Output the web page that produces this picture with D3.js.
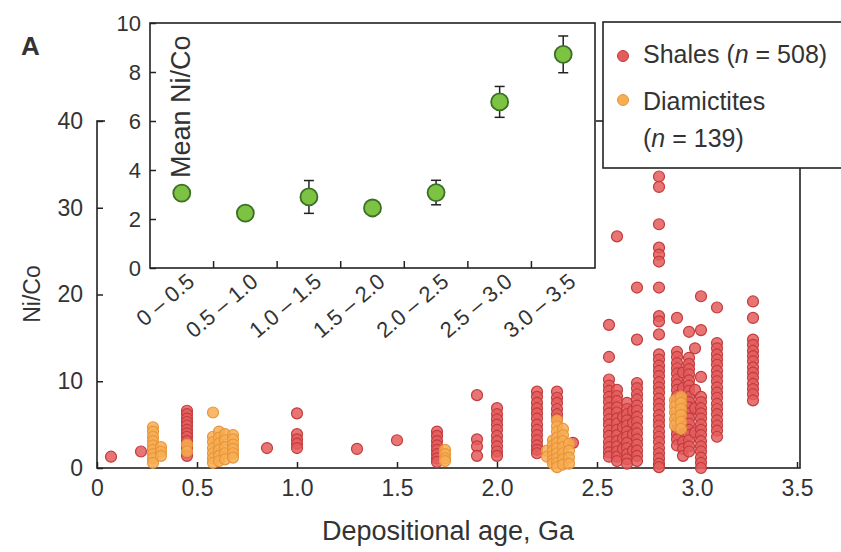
<!DOCTYPE html>
<html>
<head>
<meta charset="utf-8">
<script src="https://cdn.jsdelivr.net/npm/d3@7"></script>
<style>
    body { margin: 0; background: #fff; }
    svg { display: block; font-family: "Liberation Sans", Arial, sans-serif; }
    text { fill: #333; }
</style>
</head>
<body>
<svg width="841" height="552"></svg>
<script>

// ---- data ----
// each column: [depositional age (Ga), [Ni/Co values]]
const shales = [
    [0.07, [1.3]],
    [0.22, [1.9]],
    [0.45, [6.6, 6.2, 5.7, 5.3, 4.9, 4.4, 4.0, 3.6, 3.1, 2.7, 2.3, 1.8, 1.4]],
    [0.85, [2.3]],
    [1.0, [6.3, 3.9, 3.3, 2.8, 2.3]],
    [1.3, [2.2]],
    [1.5, [3.2]],
    [1.7, [4.2, 3.7, 3.1, 2.6, 2.1, 1.6, 1.1, 0.7]],
    [1.9, [8.4, 3.3, 2.5, 1.4]],
    [2.0, [6.9, 6.2, 5.6, 5.0, 4.4, 3.7, 3.1, 2.5, 1.9, 1.4]],
    [2.2, [8.8, 8.2, 7.5, 6.9, 6.3, 5.7, 5.0, 4.4, 3.8, 3.2, 2.6, 2.1, 1.7]],
    [2.3, [8.8, 8.1, 7.5, 6.8, 6.2, 5.6]],
    [2.38, [2.9]],
    [2.56, [16.5, 12.8, 10.2, 9.5, 8.9, 8.2, 7.6, 6.9, 6.3, 5.6, 5.0, 4.3, 3.7, 3.0, 2.4, 1.8, 1.3]],
    [2.6, [26.7, 9.0, 8.3, 7.7, 7.0, 6.4, 5.7, 5.1, 4.4, 3.8, 3.1, 2.5, 1.9, 1.3, 0.8]],
    [2.63, [5.9, 4.7, 3.4, 2.2]],
    [2.65, [7.5, 6.8, 6.2, 5.5, 4.9, 4.2, 3.6, 2.9, 2.3, 1.6, 1.0, 0.5]],
    [2.68, [6.6, 5.2, 3.9, 2.0]],
    [2.7, [20.8, 14.8, 9.8, 9.2, 8.5, 7.9, 7.2, 6.6, 5.9, 5.3, 4.6, 4.0, 3.3, 2.7, 2.0, 1.4, 0.8]],
    [2.81, [33.6, 32.4, 28.1, 25.4, 24.6, 23.8, 20.8, 17.5, 16.9, 15.4, 13.1, 12.5, 11.8, 11.2, 10.6, 9.9,
            9.3, 8.7, 8.0, 7.4, 6.8, 6.1, 5.5, 4.9, 4.2, 3.6, 3.0, 2.3, 1.7, 1.1, 0.5, 0.1]],
    [2.9, [17.3, 13.4, 12.8, 12.1, 11.5, 10.9, 10.2, 9.6, 9.0, 8.3, 7.7, 7.1, 6.4, 5.8, 5.2, 4.5, 3.9, 3.3, 2.6]],
    [2.93, [11.0, 9.2, 6.0, 3.0, 2.2, 1.4]],
    [2.96, [15.7, 12.7, 12.0, 11.4, 10.8, 10.1, 9.5, 8.9, 8.2, 7.6, 7.0, 6.3, 5.7, 5.1, 4.4, 3.8, 3.2, 2.5, 1.9]],
    [2.99, [13.8, 9.0, 6.9, 4.1]],
    [3.02, [19.8, 15.9, 10.5, 8.2, 7.6, 6.9, 6.3, 5.7, 5.0, 4.4, 3.8, 3.1, 2.5, 1.9, 1.2, 0.6, 0.0]],
    [3.1, [18.5, 14.4, 13.8, 13.1, 12.5, 11.9, 11.2, 10.6, 10.0, 9.3, 8.7, 8.1, 7.4, 6.8, 6.2, 5.5, 4.9, 4.3, 3.6]],
    [3.28, [19.2, 17.3, 14.8, 14.2, 13.5, 12.9, 12.3, 11.6, 11.0, 10.4, 9.7, 9.1, 8.5, 7.8]]
];

const diamictites = [
    [0.28, [4.7, 4.2, 3.6, 3.1, 2.6, 2.1, 1.6, 1.1, 0.6]],
    [0.32, [2.4, 1.9, 1.4]],
    [0.45, [2.7, 1.9]],
    [0.58, [6.4, 3.6, 3.0, 2.3, 1.7, 1.1, 0.6]],
    [0.61, [4.2, 3.5, 2.8, 2.1, 1.4, 0.8]],
    [0.64, [3.9, 3.2, 2.4, 1.7, 1.0]],
    [0.68, [3.8, 3.3, 2.7, 2.2, 1.7, 1.2]],
    [1.74, [2.1, 1.6, 1.1, 0.8]],
    [2.25, [2.0, 1.3]],
    [2.28, [3.2, 2.6, 2.0, 1.4, 0.9, 0.5]],
    [2.3, [5.5, 4.8, 4.2, 3.5, 2.9, 2.3, 1.7, 1.1, 0.6, 0.1]],
    [2.33, [4.5, 3.8, 3.1, 2.4, 1.7, 1.0, 0.4]],
    [2.36, [2.8, 2.0, 1.2, 0.5]],
    [2.89, [7.8, 7.1, 6.4, 5.6, 4.9]],
    [2.92, [8.2, 7.5, 6.8, 6.1, 5.3, 4.5]]
];

const ageTicks = [0, 0.5, 1.0, 1.5, 2.0, 2.5, 3.0, 3.5];
const ratioTicks = [0, 10, 20, 30, 40];

// inset: mean Ni/Co per age bin
const binLabels = ['0 \u2013 0.5', '0.5 \u2013 1.0', '1.0 \u2013 1.5', '1.5 \u2013 2.0', '2.0 \u2013 2.5', '2.5 \u2013 3.0', '3.0 \u2013 3.5'];
const binMeans = [3.06, 2.24, 2.9, 2.45, 3.08, 6.78, 8.72];
const binErrors = [0.12, 0.1, 0.67, 0.12, 0.5, 0.63, 0.75];
const meanTicks = [0, 2, 4, 6, 8, 10];

const legendItems = [
    { name: 'Shales', n: 508 },
    { name: 'Diamictites', n: 139 }
];

// ---- setup ----
const svg = d3.select('svg');
const shaleFill = '#e45c5c', shaleStroke = '#c23b3d';
const diaFill = '#f7ad52', diaStroke = '#e8953a';

const x = d3.scaleLinear().domain([0, 3.515]).range([97, 800]);
const y = d3.scaleLinear().domain([0, 40]).range([468, 121]);

// main frame
svg.append('rect')
    .attr('x', x(0)).attr('y', y(40))
    .attr('width', x(3.515) - x(0)).attr('height', y(0) - y(40))
    .attr('fill', 'none').attr('stroke', '#222').attr('stroke-width', 1.6);

const xAxis = svg.append('g')
    .attr('transform', `translate(0, ${y(0)})`)
    .call(d3.axisBottom(x).tickValues(ageTicks).tickSizeInner(-6).tickSizeOuter(0).tickPadding(12)
        .tickFormat(d => d === 0 ? '0' : d3.format('.1f')(d)));
const yAxis = svg.append('g')
    .attr('transform', `translate(${x(0)}, 0)`)
    .call(d3.axisLeft(y).tickValues(ratioTicks).tickSizeInner(-6).tickSizeOuter(0).tickPadding(14));
[xAxis, yAxis].forEach(g => {
    g.select('.domain').remove();
    g.selectAll('line').attr('stroke', '#222').attr('stroke-width', 1.5);
    g.selectAll('text').style('font-size', '23px').style('font-family', '"Liberation Sans", Arial, sans-serif').attr('fill', '#333');
});

svg.append('text')
    .attr('x', 448).attr('y', 540)
    .attr('text-anchor', 'middle')
    .style('font-size', '27px')
    .text('Depositional age, Ga');

svg.append('text')
    .attr('transform', 'translate(40, 294) rotate(-90)')
    .attr('text-anchor', 'middle')
    .style('font-size', '23px')
    .text('Ni/Co');

svg.append('text')
    .attr('x', 21).attr('y', 55)
    .style('font-size', '26px').style('font-weight', 'bold')
    .style('font-family', '"Liberation Sans Narrow", "Liberation Sans", Arial, sans-serif')
    .text('A');

// points
const flat = cols => cols.flatMap(([age, vals]) => vals.map(v => ({ age, v })));

svg.append('g').selectAll('circle')
    .data(flat(shales))
    .enter()
    .append('circle')
    .attr('cx', d => x(d.age)).attr('cy', d => y(d.v))
    .attr('r', 5.5)
    .attr('fill', shaleFill).attr('fill-opacity', 0.85)
    .attr('stroke', shaleStroke).attr('stroke-width', 1.2);

svg.append('g').selectAll('circle')
    .data(flat(diamictites))
    .enter()
    .append('circle')
    .attr('cx', d => x(d.age)).attr('cy', d => y(d.v))
    .attr('r', 5.5)
    .attr('fill', diaFill).attr('fill-opacity', 0.85)
    .attr('stroke', diaStroke).attr('stroke-width', 1.2);

// ---- inset ----
const xb = d3.scaleBand().domain(binLabels).range([150, 595]);
const yi = d3.scaleLinear().domain([0, 10]).range([268, 23]);

svg.append('rect')
    .attr('x', 105).attr('y', 0).attr('width', 491).attr('height', 300)
    .attr('fill', '#fff');
svg.append('rect')
    .attr('x', 150).attr('y', yi(10)).attr('width', 445).attr('height', yi(0) - yi(10))
    .attr('fill', '#fff').attr('stroke', '#222').attr('stroke-width', 1.6);

const iy = svg.append('g')
    .attr('transform', 'translate(150, 0)')
    .call(d3.axisLeft(yi).tickValues(meanTicks).tickSizeInner(-6).tickSizeOuter(0).tickPadding(9));
iy.select('.domain').remove();
iy.selectAll('line').attr('stroke', '#222').attr('stroke-width', 1.5);
iy.selectAll('text').style('font-size', '22px').style('font-family', '"Liberation Sans", Arial, sans-serif').attr('fill', '#333');

// bin boundary ticks
svg.append('g').selectAll('line')
    .data(binLabels.slice(1))
    .enter()
    .append('line')
    .attr('x1', d => xb(d)).attr('x2', d => xb(d))
    .attr('y1', yi(0)).attr('y2', yi(0) - 7)
    .attr('stroke', '#222').attr('stroke-width', 1.5);

svg.append('g').selectAll('text')
    .data(binLabels)
    .enter()
    .append('text')
    .attr('transform', d => `translate(${xb(d) + xb.bandwidth() / 2 + 14}, 284) rotate(-40)`)
    .attr('text-anchor', 'end')
    .style('font-size', '22px')
    .text(d => d);

svg.append('text')
    .attr('transform', 'translate(190, 178) rotate(-90)')
    .style('font-size', '27px')
    .text('Mean Ni/Co');

const bins = binLabels.map((b, i) => ({ b, m: binMeans[i], e: binErrors[i] }));
const errG = svg.append('g').selectAll('g')
    .data(bins)
    .enter()
    .append('g')
    .attr('transform', d => `translate(${xb(d.b) + xb.bandwidth() / 2}, 0)`);
errG.append('line')
    .attr('y1', d => yi(d.m - d.e)).attr('y2', d => yi(d.m + d.e))
    .attr('stroke', '#222').attr('stroke-width', 1.5);
errG.selectAll('line.cap')
    .data(d => [d.m - d.e, d.m + d.e])
    .enter()
    .append('line')
    .attr('class', 'cap')
    .attr('x1', -5).attr('x2', 5)
    .attr('y1', v => yi(v)).attr('y2', v => yi(v))
    .attr('stroke', '#222').attr('stroke-width', 1.5);
errG.append('circle')
    .attr('cy', d => yi(d.m))
    .attr('r', 8.5)
    .attr('fill', '#7cc243')
    .attr('stroke', '#3c6e25').attr('stroke-width', 1.8);

// ---- legend ----
svg.append('rect')
    .attr('x', 603).attr('y', 22).attr('width', 260).attr('height', 146)
    .attr('fill', '#fff').attr('stroke', '#222').attr('stroke-width', 1.6);

const leg = svg.append('g');
leg.append('circle').attr('cx', 623).attr('cy', 56).attr('r', 5.5)
    .attr('fill', shaleFill).attr('stroke', shaleStroke);
leg.append('circle').attr('cx', 623).attr('cy', 100).attr('r', 5.5)
    .attr('fill', diaFill).attr('stroke', diaStroke);

const t1 = leg.append('text').attr('x', 643).attr('y', 63).style('font-size', '25px');
t1.append('tspan').text(legendItems[0].name + ' (');
t1.append('tspan').style('font-style', 'italic').text('n');
t1.append('tspan').text(' = ' + legendItems[0].n + ')');

leg.append('text').attr('x', 643).attr('y', 110).style('font-size', '25px').text(legendItems[1].name);
const t2 = leg.append('text').attr('x', 643).attr('y', 147).style('font-size', '25px');
t2.append('tspan').text('(');
t2.append('tspan').style('font-style', 'italic').text('n');
t2.append('tspan').text(' = ' + legendItems[1].n + ')');

</script>
</body>
</html>
